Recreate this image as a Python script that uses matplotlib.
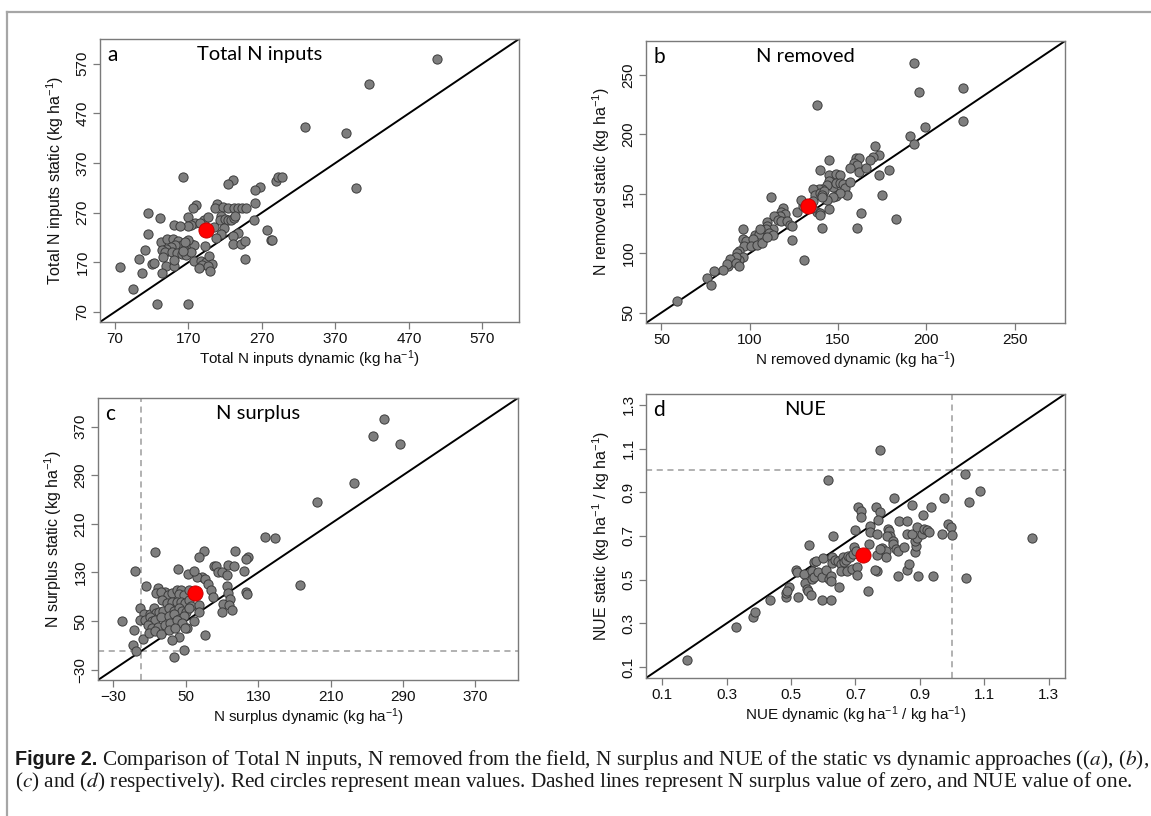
import matplotlib
matplotlib.use('Agg')
import matplotlib.pyplot as plt
from matplotlib.lines import Line2D

plt.rcParams['font.family'] = ['Liberation Sans', 'DejaVu Sans']
plt.rcParams['mathtext.fontset'] = 'custom'
plt.rcParams['mathtext.rm'] = 'Liberation Sans'
plt.rcParams['mathtext.it'] = 'Liberation Sans:italic'
plt.rcParams['mathtext.bf'] = 'Liberation Sans:bold'

# ---------------- data ----------------
# (a) Total N inputs, kg/ha
a_dyn = [509, 416, 328, 385, 398, 289, 292, 297, 163, 231, 224, 267, 260, 180, 176, 209, 206,
         217, 224, 232, 238, 243, 249, 260, 115, 131, 170, 215, 213, 220, 224, 228, 232, 234,
         259, 191, 196, 179, 173, 170, 150, 159, 205, 186, 218, 215, 207, 237, 231, 277, 283,
         284, 115, 132, 141, 149, 156, 161, 167, 173, 177, 170, 165, 152, 146, 140, 134, 138,
         148, 154, 161, 167, 173, 163, 192, 231, 241, 247, 111, 103, 121, 123, 135, 140, 150,
         150, 177, 187, 194, 189, 198, 202, 197, 184, 199, 247, 77, 107, 134, 95, 127, 169]
a_sta = [580, 529, 442, 430, 319, 334, 341, 342, 341, 336, 328, 322, 315, 286, 279, 287, 279,
         282, 279, 279, 279, 279, 279, 289, 269, 260, 262, 263, 256, 258, 256, 256, 260, 264,
         256, 255, 262, 249, 245, 244, 245, 244, 242, 250, 240, 227, 219, 228, 223, 236, 215,
         214, 226, 211, 216, 216, 212, 204, 201, 206, 204, 214, 210, 204, 201, 197, 194, 191,
         191, 189, 187, 185, 190, 193, 202, 207, 207, 212, 195, 177, 166, 169, 180, 163, 163,
         174, 173, 173, 170, 165, 183, 167, 163, 158, 153, 177, 161, 148, 149, 117, 86, 85]
a_mean = (194, 235)

# (b) N removed, kg/ha
b_dyn = [193, 196, 221, 221, 199, 138, 59, 191, 193, 171, 173, 170, 168, 160, 162, 159, 161,
         162, 157, 166, 179, 173, 145, 140, 145, 149, 151, 145, 147, 144, 149, 151, 153, 154,
         157, 141, 139, 136, 137, 140, 142, 141, 155, 149, 151, 147, 144, 141, 138, 140, 140,
         145, 141, 124, 131, 163, 161, 183, 175, 127, 130, 131, 129, 135, 136, 119, 118, 120,
         117, 114, 116, 118, 121, 123, 124, 112, 96, 96, 98, 97, 94, 93, 96, 94, 92, 103, 105,
         102, 101, 104, 107, 110, 110, 113, 109, 111, 113, 110, 106, 89, 88, 87, 85, 92, 94,
         80, 76, 78]
b_sta = [260, 236, 239, 211, 206, 225, 60, 199, 192, 190, 183, 181, 178, 180, 180, 176, 174,
         168, 172, 172, 170, 166, 178, 170, 166, 167, 166, 161, 156, 157, 159, 159, 158, 155,
         160, 154, 154, 154, 149, 151, 152, 149, 149, 148, 151, 147, 145, 147, 135, 134, 132,
         137, 121, 111, 94, 134, 121, 129, 149, 135, 140, 142, 145, 138, 144, 138, 135, 133,
         131, 131, 128, 127, 127, 124, 123, 147, 120, 112, 110, 106, 102, 100, 97, 94, 97, 115,
         116, 112, 106, 107, 109, 126, 123, 120, 120, 117, 115, 114, 120, 95, 89, 91, 86, 92,
         89, 85, 79, 73]
b_mean = (133, 140)

# (c) N surplus, kg/ha
c_dyn = [269, 257, 287, 236, 195, 138, 149, 176, 81, 83, 86, 90, 96, 97, 103, 114, 68, 62, 71,
         75, 78, 80, 19, 17, 27, 23, 30, 35, 40, 45, 43, 48, 53, 6, 24, 29, 35, 40, 45, 49, 53,
         56, 65, -1, 4, 10, 15, 17, 20, 25, 31, 37, 42, 46, 50, 53, -1, 5, 10, 13, 16, 23, 31,
         37, 43, 48, 8, 13, 19, 27, 32, 40, 46, 51, 59, 65, -21, -7, 3, 9, 16, 23, 31, 38, 43,
         35, 49, 71, -8, -5, 37, 48, 95, 97, 99, 91, 98, 90, 101, 116, 118, 16, -6, 70, 65, 104,
         119, 116, 41, 52, 59]
c_sta = [382, 355, 342, 277, 246, 188, 186, 109, 141, 140, 130, 130, 126, 142, 140, 133, 122,
         122, 119, 111, 101, 89, 105, 96, 97, 97, 93, 96, 101, 101, 94, 93, 101, 108, 84, 79,
         82, 82, 82, 79, 84, 75, 76, 71, 62, 62, 71, 64, 65, 67, 71, 67, 71, 67, 65, 71, 51, 52,
         57, 50, 52, 56, 58, 61, 54, 58, 43, 38, 40, 43, 46, 51, 46, 38, 50, 65, 50, 36, 20, 30,
         34, 29, 35, 39, 24, 18, 39, 27, 10, 1, -9, 3, 107, 96, 86, 78, 76, 65, 69, 97, 94, 163,
         133, 166, 155, 165, 156, 152, 136, 127, 133]
c_mean = (60, 95.5)

# (d) NUE, (kg/ha)/(kg/ha)
d_dyn = [0.178, 0.776, 0.614, 1.040, 1.085, 1.249, 0.330, 0.383, 0.388, 0.436, 0.485, 0.483,
         0.494, 0.489, 0.514, 0.517, 0.540, 0.543, 0.549, 0.554, 0.563, 0.522, 0.556, 0.572,
         0.577, 0.565, 0.565, 0.572, 0.584, 0.596, 0.600, 0.609, 0.619, 0.623, 0.623, 0.596,
         0.623, 0.648, 0.629, 0.628, 0.628, 0.637, 0.646, 0.660, 0.656, 0.665, 0.669, 0.676,
         0.683, 0.692, 0.694, 0.702, 0.654, 0.674, 0.688, 0.706, 0.704, 0.697, 0.739, 0.709,
         0.716, 0.717, 0.764, 0.776, 0.771, 0.746, 0.745, 0.743, 0.768, 0.782, 0.794, 0.801,
         0.805, 0.808, 0.799, 0.794, 0.766, 0.768, 0.762, 0.776, 0.815, 0.817, 0.826, 0.831,
         0.849, 0.836, 0.861, 0.820, 0.861, 0.866, 0.831, 0.886, 0.889, 0.886, 0.891, 0.861,
         0.874, 0.891, 0.905, 0.914, 0.923, 0.928, 0.909, 0.874, 0.935, 0.894, 0.942, 0.974,
         0.969, 0.986, 0.997, 1.000, 1.042, 1.051]
d_sta = [0.134, 1.094, 0.956, 0.985, 0.907, 0.689, 0.282, 0.328, 0.354, 0.409, 0.419, 0.439,
         0.468, 0.450, 0.546, 0.534, 0.526, 0.483, 0.458, 0.450, 0.432, 0.422, 0.659, 0.580,
         0.587, 0.542, 0.503, 0.511, 0.534, 0.511, 0.600, 0.545, 0.503, 0.519, 0.496, 0.409,
         0.407, 0.465, 0.701, 0.603, 0.575, 0.591, 0.587, 0.606, 0.572, 0.580, 0.591, 0.610,
         0.603, 0.618, 0.649, 0.630, 0.542, 0.542, 0.549, 0.560, 0.522, 0.728, 0.447, 0.835,
         0.814, 0.786, 0.835, 0.812, 0.774, 0.748, 0.717, 0.664, 0.707, 0.644, 0.630, 0.733,
         0.725, 0.702, 0.698, 0.603, 0.615, 0.542, 0.545, 0.641, 0.676, 0.664, 0.641, 0.630,
         0.649, 0.768, 0.768, 0.875, 0.545, 0.572, 0.516, 0.626, 0.656, 0.679, 0.691, 0.710,
         0.710, 0.740, 0.707, 0.733, 0.728, 0.717, 0.797, 0.840, 0.835, 0.519, 0.519, 0.875,
         0.710, 0.756, 0.740, 0.705, 0.508, 0.855]
d_mean = (0.722, 0.615)

a_ticks = [70, 170, 270, 370, 470, 570]
b_ticks = [50, 100, 150, 200, 250]
c_ticks = [-30, 50, 130, 210, 290, 370]
d_ticks = [0.1, 0.3, 0.5, 0.7, 0.9, 1.1, 1.3]

unit = '(kg ha$^{\\mathrm{-1}}$)'
unit_ratio = '(kg ha$^{\\mathrm{-1}}$ / kg ha$^{\\mathrm{-1}}$)'

caption1 = ('Comparison of Total N inputs, N removed from the field, N surplus and NUE of the '
            'static vs dynamic approaches (($a$), ($b$),')
caption2 = ('($c$) and ($d$) respectively). Red circles represent mean values. Dashed lines '
            'represent N surplus value of zero, and NUE value of one.')

# ---------------- figure ----------------
W, H = 1151, 816
fig = plt.figure(figsize=(W / 100, H / 100), dpi=100)


def box(l, t, r, b):
    return [l / W, 1 - b / H, (r - l) / W, (b - t) / H]


panels = [
    dict(rect=box(100, 39, 519, 322), x=a_dyn, y=a_sta, m=a_mean, lim=(49.6, 620),
         ticks=a_ticks, letter='a', title='Total N inputs',
         xl='Total N inputs dynamic ' + unit, yl='Total N inputs static ' + unit, ref=None),
    dict(rect=box(646, 41, 1065, 323), x=b_dyn, y=b_sta, m=b_mean, lim=(41.3, 278.5),
         ticks=b_ticks, letter='b', title='N removed',
         xl='N removed dynamic ' + unit, yl='N removed static ' + unit, ref=None),
    dict(rect=box(98, 398, 518, 680), x=c_dyn, y=c_sta, m=c_mean, lim=(-47, 417),
         ticks=c_ticks, letter='c', title='N surplus',
         xl='N surplus dynamic ' + unit, yl='N surplus static ' + unit, ref=0),
    dict(rect=box(646, 394, 1065, 678), x=d_dyn, y=d_sta, m=d_mean, lim=(0.05, 1.35),
         ticks=d_ticks, letter='d', title='NUE',
         xl='NUE dynamic ' + unit_ratio, yl='NUE static ' + unit_ratio, ref=1),
]

frame_col = '#7a7a7a'
for p in panels:
    ax = fig.add_axes(p['rect'])
    lo, hi = p['lim']
    ax.set_xlim(lo, hi)
    ax.set_ylim(lo, hi)

    if p['ref'] is not None:
        ax.axvline(p['ref'], color='#9c9c9c', lw=1.1, ls=(0, (4, 3)), zorder=1)
        ax.axhline(p['ref'], color='#9c9c9c', lw=1.1, ls=(0, (4, 3)), zorder=1)
    ax.plot([lo, hi], [lo, hi], color='black', lw=1.4, zorder=2)
    ax.scatter(p['x'], p['y'], s=44, c='#7e7e7e', edgecolors='#3c3c3c',
               linewidths=0.7, zorder=3)
    ax.scatter([p['m'][0]], [p['m'][1]], s=120, c='#ff0000', edgecolors='#c00000',
               linewidths=0.6, zorder=4)

    if p['letter'] == 'c':
        labels = [str(t).replace('-', '\u2212') for t in p['ticks']]
    else:
        labels = [str(t) for t in p['ticks']]
    ax.set_xticks(p['ticks'], labels)
    ax.set_yticks(p['ticks'], labels)
    ax.tick_params(direction='out', length=5, width=0.9, color=frame_col,
                   labelsize=11, labelcolor='#111111', pad=2.5)
    for lab in ax.get_yticklabels():
        lab.set_rotation(90)
        lab.set_va('center')
    for s in ax.spines.values():
        s.set_color(frame_col)
        s.set_linewidth(1.0)

    ax.set_xlabel(p['xl'], fontsize=11, color='#111111')
    ax.set_ylabel(p['yl'], fontsize=11.5, color='#111111')
    wpx = p['rect'][2] * W
    hpx = p['rect'][3] * H
    ax.xaxis.set_label_coords(0.5, -37 / hpx)
    ax.xaxis.label.set_va('center')
    ax.yaxis.set_label_coords(-45 / wpx, 0.5)
    ax.yaxis.label.set_va('center')

    ax.text(0.018, 0.943, p['letter'], transform=ax.transAxes, fontsize=15,
            family='Lato', va='center', ha='left')
    ax.text(0.38, 0.945, p['title'], transform=ax.transAxes, fontsize=14.5,
            family='Lato', va='center', ha='center')

# outer frame of the figure panel
fig.add_artist(Line2D([7 / W, 7 / W], [0, 1 - 12 / H], color='#a6a6a6', lw=1.6,
                      transform=fig.transFigure))
fig.add_artist(Line2D([7 / W, 1], [1 - 12 / H, 1 - 12 / H], color='#a6a6a6', lw=1.6,
                      transform=fig.transFigure))

# caption, sized so the first line spans the same width as in the original
r = fig.canvas.get_renderer()
probe = fig.text(0, 0, 'Figure 2. ' + caption1, fontsize=10, family='Liberation Serif',
                 math_fontfamily='stix')
cap_size = 10 * 1128 / probe.get_window_extent(r).width
probe.remove()

y1 = 1 - 765 / H
y2 = 1 - 787 / H
t0 = fig.text(15 / W, y1, 'Figure 2.', fontsize=cap_size * 0.93, weight='bold',
              family='Liberation Sans', va='baseline', color='#1a1a1a')
x1 = t0.get_window_extent(r).x1 + cap_size * 0.3
fig.text(x1 / W, y1, caption1, fontsize=cap_size, family='Liberation Serif',
         math_fontfamily='stix', va='baseline', color='#1a1a1a')
fig.text(15 / W, y2, caption2, fontsize=cap_size, family='Liberation Serif',
         math_fontfamily='stix', va='baseline', color='#1a1a1a')

fig.savefig('out.png', dpi=100)
